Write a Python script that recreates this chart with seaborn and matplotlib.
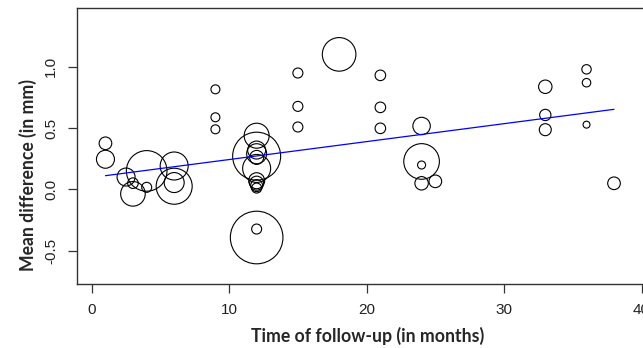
import numpy as np
import pandas as pd
import matplotlib
matplotlib.use("Agg")
import matplotlib.pyplot as plt
import seaborn as sns

# ---- data ----
follow_up = [1, 1, 2.5, 3, 3, 4, 4, 6, 6, 6,
             9, 9, 9,
             12, 12, 12, 12, 12, 12, 12, 12, 12, 12, 12, 12,
             15, 15, 15, 18, 21, 21, 21,
             24, 24, 24, 24, 25,
             33, 33, 33, 36, 36, 36, 38]
mean_diff = [0.375, 0.245, 0.10, 0.05, -0.037, 0.15, 0.016, 0.19, 0.055, 0.025,
             0.815, 0.587, 0.489,
             0.437, 0.27, 0.32, 0.29, 0.26, 0.17, 0.07, 0.05, 0.03, 0.01, -0.324, -0.393,
             0.948, 0.676, 0.508, 1.10, 0.929, 0.668, 0.497,
             0.516, 0.227, 0.198, 0.049, 0.065,
             0.836, 0.606, 0.486, 0.978, 0.869, 0.527, 0.049]
study_weight = [40, 81, 81, 28, 151, 412, 25, 196, 100, 324,
                20, 20, 20,
                156, 576, 81, 100, 49, 196, 64, 49, 36, 25, 25, 692,
                25, 25, 25, 282, 28, 28, 28,
                76, 317, 16, 45, 40,
                45, 32, 36, 22, 18, 12, 40]
fit_x = [1, 38]
fit_y = [0.111, 0.652]
x_ticks = [0, 10, 20, 30, 40]
y_ticks = [-0.5, 0.0, 0.5, 1.0]
x_label = "Time of follow-up (in months)"
y_label = "Mean difference (in mm)"

df = pd.DataFrame({"time": follow_up, "diff": mean_diff, "w": study_weight})
fit = pd.DataFrame({"time": fit_x, "diff": fit_y})

sns.set_style("white")
plt.rcParams["axes.unicode_minus"] = False

DPI = 100
fig = plt.figure(figsize=(6.43, 3.48), dpi=DPI)
W, H = 643, 348
left_px, right_px, top_px, bot_px = 77, 658, 8, 284
ax = fig.add_axes([left_px / W, 1 - bot_px / H, (right_px - left_px) / W, (bot_px - top_px) / H])

k = (1.44) ** 2  # points^2 per weight unit
wmin, wmax = min(study_weight), max(study_weight)
sns.scatterplot(data=df, x="time", y="diff", size="w",
                sizes=(k * wmin, k * wmax), size_norm=(wmin, wmax),
                legend=False, ax=ax, marker="o")
coll = ax.collections[-1]
coll.set_facecolor("none")
coll.set_edgecolor("black")
coll.set_linewidth(0.8)

sns.lineplot(data=fit, x="time", y="diff", color="#0000ff", lw=0.9, ax=ax)

ax.set_xlim(-1.07, 41.2)
ax.set_ylim(-0.772, 1.478)
ax.set_xticks(x_ticks)
ax.set_yticks(y_ticks)
ax.set_xticklabels([str(t) for t in x_ticks])
ax.set_yticklabels([f"{t:.1f}" for t in y_ticks], rotation=90, va="center")
for lab in ax.get_xticklabels() + ax.get_yticklabels():
    lab.set_fontfamily("Liberation Sans")
    lab.set_fontsize(11)
    lab.set_color("#222222")
ax.tick_params(axis="both", direction="out", length=6.5, width=0.9, color="#333333",
               bottom=True, left=True)
ax.tick_params(axis="x", pad=7.5)
ax.tick_params(axis="y", pad=7)
ax.set_xlabel("")
ax.set_ylabel("")
for s in ["left", "top", "bottom", "right"]:
    ax.spines[s].set_color("#333333")
    ax.spines[s].set_linewidth(1.0)

fig.text(367.5 / W, 1 - 335.5 / H, x_label, ha="center", va="center",
         fontfamily="Lato", fontweight="bold", fontsize=12.7)
fig.text(28 / W, 1 - 175 / H, y_label, ha="center", va="center", rotation=90,
         fontfamily="Lato", fontweight="bold", fontsize=12.7)

fig.savefig("out.png", dpi=DPI)
